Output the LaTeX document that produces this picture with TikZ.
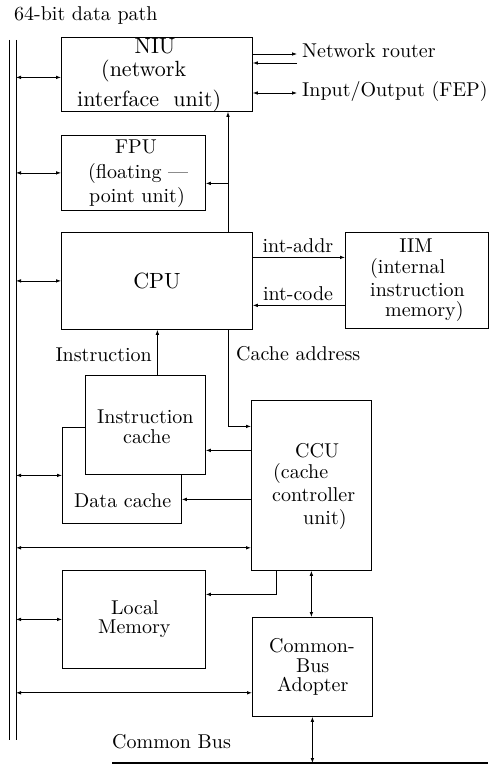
\documentclass[tikz,border=0pt]{standalone}
\usepackage{fontspec}
\setmainfont{lmroman10-regular.otf}
\usetikzlibrary{arrows.meta}
\begin{document}
\begin{tikzpicture}[x=1pt,y=-1pt,
  every node/.style={font=\fontsize{20}{24}\selectfont, inner sep=0pt},
  bigtext/.style={font=\fontsize{22}{26}\selectfont},
  unit/.style={draw, line width=0.8pt, rectangle, anchor=north west, inner sep=0pt, fill=white},
  lbl/.style={anchor=base west},
  lblc/.style={anchor=base},
  lble/.style={anchor=base east},
  wire/.style={line width=0.8pt},
  onearrow/.style={wire, -{Latex[length=5pt,width=3.6pt]}},
  twoarrow/.style={wire, {Latex[length=5pt,width=3.6pt]}-{Latex[length=5pt,width=3.6pt]}},
]
\useasboundingbox (0,0) rectangle (492,768);

% 64-bit data path (double bus line on the left)
\coordinate (busLtop) at (9,40);
\coordinate (busLbot) at (9,740);
\coordinate (busRtop) at (16,40);
\coordinate (busRbot) at (16,740);
\coordinate (busR) at (16,0);
\draw[wire] (busLtop) -- (busLbot);
\draw[wire] (busRtop) -- (busRbot);
\node[lbl] (title) at (14,21) {64-bit data path};

% common bus at the bottom
\coordinate (cbL) at (112,763);
\coordinate (cbR) at (488,763);
\draw[line width=1.4pt] (cbL) -- (cbR);
\node[lbl] (cbtext) at (112,748) {Common Bus};

% functional units
\node[unit, minimum width=191pt, minimum height=74pt] (niu) at (61,37) {};
\node[unit, minimum width=144pt, minimum height=75pt] (fpu) at (61,135) {};
\node[unit, minimum width=191pt, minimum height=97pt] (cpu) at (61,232) {};
\node[unit, minimum width=143pt, minimum height=96pt] (iim) at (345,232) {};
\node[unit, minimum width=119pt, minimum height=96pt] (dcache) at (62,427) {};
\node[unit, minimum width=120pt, minimum height=99pt] (icache) at (85,375) {};
\node[unit, minimum width=120pt, minimum height=170pt] (ccu) at (251,400) {};
\node[unit, minimum width=143pt, minimum height=98pt] (lmem) at (62,570) {};
\node[unit, minimum width=120pt, minimum height=99pt] (cba) at (252,617) {};

% unit labels
\node[lblc, bigtext] (niu1) at (155,53) {NIU};
\node[lbl, bigtext] (niu2) at (101,77) {(network};
\node[lbl, bigtext] (niu3) at (77,106) {\makebox[144pt][s]{interface unit)}};
\node[lblc] (fpu1) at (136,153) {FPU};
\node[lbl] (fpu2) at (88,178) {(floating ---};
\node[lbl] (fpu3) at (89,202) {point unit)};
\node[lblc, bigtext] (cpu1) at (157,288) {CPU};
\node[lblc] (iim1) at (416,252) {IIM};
\node[lbl] (iim2) at (370,273) {(internal};
\node[lbl] (iim3) at (370,296) {instruction};
\node[lbl] (iim4) at (385,316) {memory)};
\node[lbl] (ic1) at (97,423) {Instruction};
\node[lbl] (ic2) at (123,443) {cache};
\node[lbl] (dc1) at (74,507) {Data cache};
\node[lbl] (ccu1) at (295,457) {CCU};
\node[lbl] (ccu2) at (273,478) {(cache};
\node[lbl] (ccu3) at (272,501) {controller};
\node[lbl] (ccu4) at (303,524) {unit)};
\node[lbl] (lm1) at (111,614) {Local};
\node[lbl] (lm2) at (98,633) {Memory};
\node[lbl] (cba1) at (269,652) {Common-};
\node[lbl] (cba2) at (296,672) {Bus};
\node[lbl] (cba3) at (277,691) {Adopter};

% external links of the NIU
\node[lbl] (router) at (302,57) {Network router};
\node[lbl] (io) at (302,96) {Input/Output (FEP)};
\coordinate (nrOut) at (297,54);
\coordinate (nrIn) at (297,63);
\coordinate (ioEnd) at (297,93);
\draw[onearrow] (nrOut -| niu.east) -- (nrOut);
\draw[onearrow] (nrIn) -- (nrIn -| niu.east);
\draw[twoarrow] (ioEnd -| niu.east) -- (ioEnd);

% bus connections
\coordinate (niuA) at ([yshift=-3pt]niu.west);
\coordinate (ccuA) at ([yshift=23pt]ccu.south west);
\coordinate (cbaA) at ([yshift=24pt]cba.south west);
\draw[twoarrow] (busR |- niuA) -- (niuA);
\draw[twoarrow] (busR |- fpu.west) -- (fpu.west);
\draw[twoarrow] (busR |- cpu.west) -- (cpu.west);
\draw[twoarrow] (busR |- dcache.west) -- (dcache.west);
\draw[twoarrow] (busR |- ccuA) -- (ccuA);
\draw[twoarrow] (busR |- lmem.west) -- (lmem.west);
\draw[twoarrow] (busR |- cbaA) -- (cbaA);

% CPU to NIU / FPU
\coordinate (vcol) at (228,0);
\coordinate (fpuIn) at ([yshift=-10.5pt]fpu.east);
\draw[onearrow] (vcol |- cpu.north) -- (vcol |- niu.south);
\draw[onearrow] (fpuIn -| vcol) -- (fpuIn);

% CPU and IIM
\coordinate (addrA) at ([yshift=23.5pt]cpu.east);
\coordinate (codeA) at ([yshift=-24.5pt]cpu.east);
\draw[onearrow] (addrA) -- (addrA -| iim.west);
\draw[onearrow] (codeA -| iim.west) -- (codeA);
\node[lblc] (addrlbl) at (298,252) {int-addr};
\node[lblc] (codelbl) at (298,300) {int-code};

% instruction fetch and cache address
\coordinate (icTop) at ([xshift=12pt]icache.north);
\draw[onearrow] (icTop) -- (icTop |- cpu.south);
\node[lble] (instlbl) at (152,361) {Instruction};
\coordinate (ccuAddr) at ([yshift=59pt]ccu.west);
\draw[onearrow] (vcol |- cpu.south) |- (ccuAddr);
\node[lbl] (addrtxt) at (236,360) {Cache address};

% CCU to the caches and local memory
\coordinate (ccuI) at ([yshift=35pt]ccu.west);
\coordinate (ccuD) at ([yshift=-14pt]ccu.west);
\draw[onearrow] (ccuI) -- (ccuI -| icache.east);
\draw[onearrow] (ccuD) -- (ccuD -| dcache.east);
\coordinate (ccuM) at ([xshift=25pt]ccu.south west);
\coordinate (lmemIn) at ([yshift=25pt]lmem.east);
\draw[onearrow] (ccuM) |- (lmemIn);

% CCU, adapter and common bus
\draw[twoarrow] (ccu.south) -- (ccu.south |- cba.north);
\draw[twoarrow] (cba.south) -- (cba.south |- cbL);

\end{tikzpicture}
\end{document}
